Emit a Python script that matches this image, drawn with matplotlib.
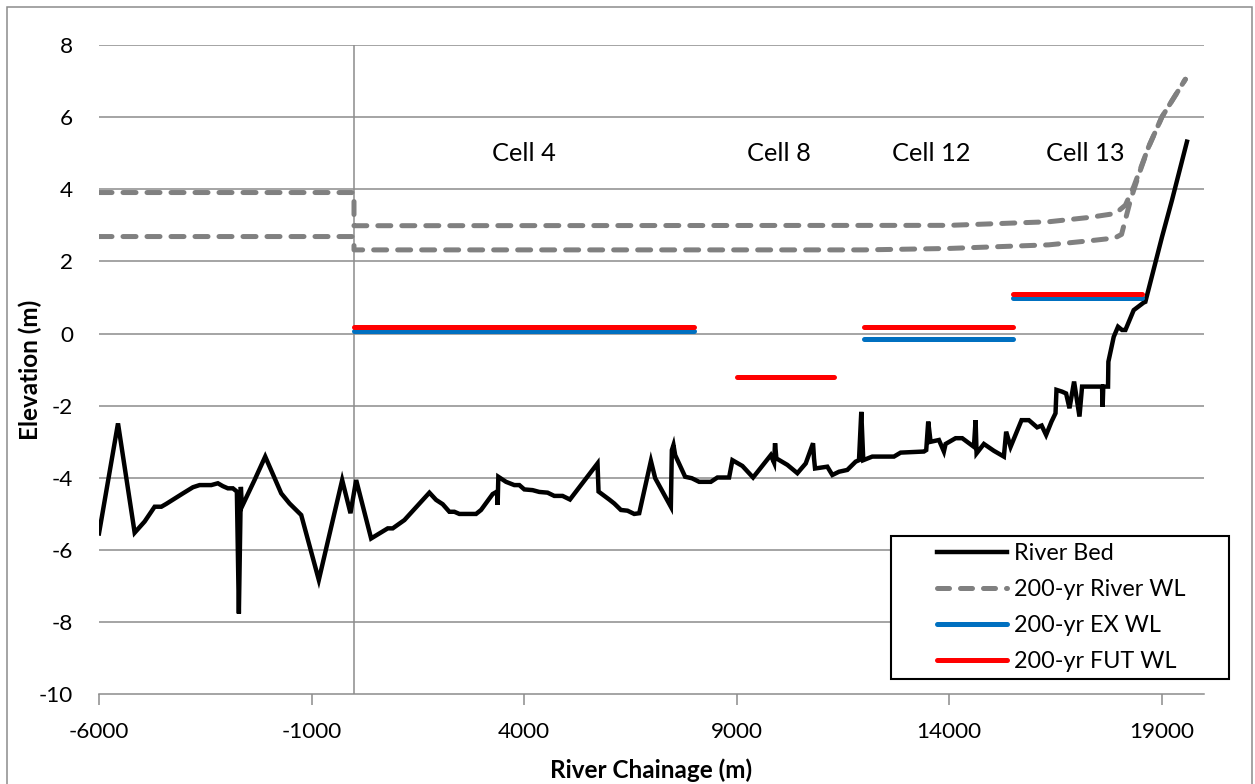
import matplotlib
matplotlib.use("Agg")
import matplotlib.pyplot as plt
from matplotlib.patches import Rectangle
from matplotlib.lines import Line2D

plt.rcParams['font.family'] = ['Lato', 'DejaVu Sans']

# ---- data ----
bed_x = [-6000, -5553, -5161, -4926, -4691, -4533, -4416, -4025, -3790, -3633, -3358, -3203, -3085,
         -2968, -2850, -2756, -2709, -2662, -2638, -2340, -2089, -1712, -1517, -1242, -828, -278, -83,
         51, 403, 794, 911, 1186, 1774, 1931, 2087, 2244, 2362, 2479, 2872, 2989, 3262, 3365, 3380,
         3396, 3577, 3772, 3890, 4007, 4202, 4359, 4555, 4712, 4907, 5081, 5730, 5754, 6005, 6123,
         6280, 6436, 6593, 6711, 6986, 7087, 7258, 7455, 7479, 7517, 7557, 7792, 7949, 8121, 8396,
         8551, 8826, 8904, 9139, 9390, 9806, 9884, 9907, 9938, 10197, 10432, 10629, 10801, 10824,
         10848, 11137, 11255, 11412, 11607, 11804, 11882, 11936, 11983, 12195, 12705, 12862, 13410,
         13464, 13511, 13567, 13763, 13880, 13920, 14155, 14311, 14586, 14626, 14649, 14821, 15056,
         15291, 15345, 15449, 15707, 15879, 16074, 16180, 16285, 16412, 16506, 16529, 16661, 16755,
         16835, 16943, 17070, 17131, 17601, 17615, 17630, 17742, 17750, 17876, 17977, 18071, 18151,
         18346, 18581, 18620, 19012, 19247, 19599]
bed_y = [-5.54, -2.49, -5.52, -5.21, -4.80, -4.80, -4.72, -4.43, -4.26, -4.20, -4.20, -4.15, -4.23,
         -4.29, -4.29, -4.38, -7.76, -4.25, -4.80, -4.06, -3.41, -4.43, -4.71, -5.03, -6.83, -4.06, -4.98,
         -4.06, -5.68, -5.40, -5.40, -5.17, -4.41, -4.61, -4.73, -4.94, -4.94, -5.00, -5.00, -4.89, -4.45,
         -4.38, -4.75, -3.97, -4.11, -4.20, -4.20, -4.32, -4.34, -4.39, -4.41, -4.50, -4.50, -4.60, -3.60,
         -4.38, -4.60, -4.71, -4.89, -4.91, -5.00, -4.98, -3.53, -4.01, -4.38, -4.80, -3.23, -3.09, -3.37,
         -3.97, -4.01, -4.11, -4.11, -3.99, -3.99, -3.51, -3.67, -3.99, -3.37, -3.58, -3.04, -3.46, -3.64,
         -3.87, -3.60, -3.04, -3.46, -3.74, -3.69, -3.92, -3.83, -3.78, -3.55, -3.51, -2.17, -3.51, -3.41,
         -3.41, -3.30, -3.27, -3.23, -2.44, -3.00, -2.95, -3.27, -3.06, -2.90, -2.90, -3.14, -2.40, -3.32,
         -3.06, -3.25, -3.41, -2.72, -3.14, -2.40, -2.40, -2.60, -2.55, -2.81, -2.44, -2.21, -1.56, -1.61,
         -1.66, -2.07, -1.33, -2.30, -1.47, -1.47, -2.03, -1.47, -1.47, -0.78, -0.09, 0.19, 0.10, 0.10,
         0.65, 0.86, 0.88, 2.68, 3.70, 5.32]

wl_upper_x = [-6000, 0, 0, 14000, 16349, 17297, 17917, 18150, 18346, 18698, 19012, 19562]
wl_upper_y = [3.91, 3.91, 2.99, 3.00, 3.10, 3.22, 3.33, 3.56, 4.07, 5.18, 6.01, 7.05]
wl_lower_x = [-6000, 0, 0, 12000, 14000, 16349, 17367, 17900, 18060, 18270, 18464, 18698, 19012, 19562]
wl_lower_y = [2.69, 2.69, 2.32, 2.32, 2.36, 2.46, 2.58, 2.65, 2.75, 3.70, 4.40, 5.18, 6.01, 7.05]

# cells: (start, end)
ex_cells = ["Cell 4", "Cell 12", "Cell 13"]
ex_start = [0, 12000, 15500]
ex_end = [8000, 15500, 18550]
ex_level = [0.07, -0.15, 0.99]

fut_cells = ["Cell 4", "Cell 8", "Cell 12", "Cell 13"]
fut_start = [0, 9000, 12000, 15500]
fut_end = [8000, 11300, 15500, 18550]
fut_level = [0.19, -1.19, 0.19, 1.10]

label_text = ["Cell 4", "Cell 8", "Cell 12", "Cell 13"]
label_x = [4000, 10000, 13580, 17200]
label_y = 5.0

x_ticks = [-6000, -1000, 4000, 9000, 14000, 19000]
y_ticks = [-10, -8, -6, -4, -2, 0, 2, 4, 6, 8]

# ---- figure ----
W, H = 1255, 784
fig = plt.figure(figsize=(W / 100, H / 100), dpi=100)
ax = fig.add_axes([99 / W, 1 - 694.3 / H, (1204 - 99) / W, (694.3 - 45) / H])

grid_c = '#8c8c8c'
for yv in y_ticks[1:]:
    ax.axhline(yv, color=grid_c, lw=1.1, zorder=1)
ax.axvline(0, color=grid_c, lw=1.1, zorder=1)

gray = '#808080'
blue = '#0070C0'
red = '#FF0000'

ax.plot(bed_x, bed_y, color='black', lw=3.2, solid_joinstyle='miter', zorder=5)
for xs, ys in [(wl_upper_x, wl_upper_y), (wl_lower_x, wl_lower_y)]:
    ax.plot(xs, ys, color=gray, lw=3.6, dashes=(2.6, 2.2), dash_capstyle='round', zorder=4)

for s, e, v in zip(ex_start, ex_end, ex_level):
    ax.plot([s, e], [v, v], color=blue, lw=3.6, solid_capstyle='round', zorder=6)
for s, e, v in zip(fut_start, fut_end, fut_level):
    ax.plot([s, e], [v, v], color=red, lw=3.6, solid_capstyle='round', zorder=7)

for t, xv in zip(label_text, label_x):
    ax.text(xv, label_y, t, ha='center', va='center', fontsize=18.3, color='black')

tick_fs = 16.2
ax.set_xlim(-6000, 20000)
ax.set_ylim(-10, 8)
ax.set_xticks(x_ticks)
ax.set_yticks(y_ticks)
ax.set_xticklabels([str(v) for v in x_ticks])
ax.set_yticklabels([str(v) for v in y_ticks])
for sp in ['top', 'right', 'left']:
    ax.spines[sp].set_visible(False)
ax.spines['bottom'].set_color(grid_c)
ax.spines['bottom'].set_linewidth(1.1)
ax.tick_params(axis='x', length=8, width=1.1, color=grid_c, pad=12, labelsize=tick_fs)
ax.tick_params(axis='y', length=0, pad=18.5, labelsize=tick_fs)
ax.set_xlabel('River Chainage (m)', fontsize=17.5, fontweight='bold')
ax.set_ylabel('Elevation (m)', fontsize=17.5, fontweight='bold')
ax.xaxis.label.set_va('center')
ax.yaxis.label.set_va('center')
ax.xaxis.set_label_coords(0.5, -(770 - 694.3) / (694.3 - 45))
ax.yaxis.set_label_coords(-(99 - 30) / (1204 - 99), 0.5)

handles = [Line2D([], [], color='black', lw=3.2),
           Line2D([], [], color=gray, lw=3.6, dashes=(2.4, 2.2), dash_capstyle='round'),
           Line2D([], [], color=blue, lw=3.6, solid_capstyle='round'),
           Line2D([], [], color=red, lw=3.6, solid_capstyle='round')]
labels = ['River Bed', '200-yr River WL', '200-yr EX WL', '200-yr FUT WL']
leg = fig.legend(handles, labels, loc='upper left', bbox_to_anchor=(937 / W, 1 - 543 / H),
                 frameon=False, fontsize=16.8, handlelength=3.0, handletextpad=0.3,
                 labelspacing=0.64, borderpad=0, borderaxespad=0)

fig.patches.append(Rectangle((891 / W, 1 - 679 / H), (1229 - 891) / W, (679 - 536) / H,
                             transform=fig.transFigure, fill=True, facecolor='white',
                             edgecolor='black', lw=1.5, zorder=0.5))
fig.patches.append(Rectangle((7 / W, -0.01), (1252 - 7) / W, 1.01 - 7 / H,
                             transform=fig.transFigure, fill=False, edgecolor='#8c8c8c', lw=1.1))

fig.savefig('out.png', dpi=100)
